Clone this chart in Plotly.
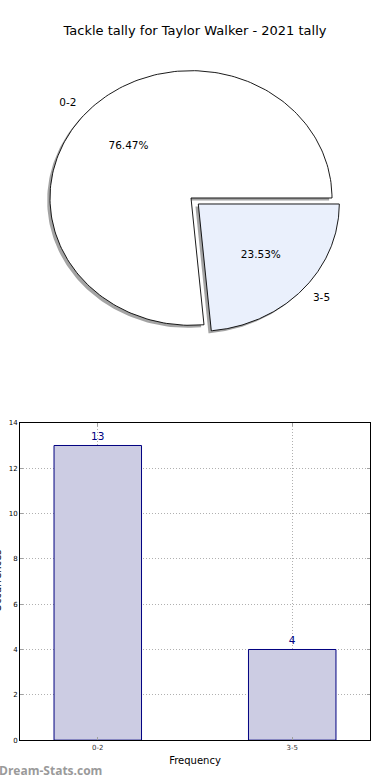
import numpy as np
import plotly.graph_objects as go

# ---------------- data ----------------
title = "Tackle tally for Taylor Walker - 2021 tally"
categories = ["0-2", "3-5"]
counts = [13, 4]
explode = [0.0, 0.07]
slice_colors = ["#ffffff", "#eaf0fc"]
y_ticks = [0, 2, 4, 6, 8, 10, 12, 14]
x_title = "Frequency"
y_title = "Occurrences"
watermark = "Dream-Stats.com"

# ---------------- geometry ----------------
W, H = 390, 780
K = 784 / 780          # page is a few px taller than the figure; compensate
FONT = "DejaVu Sans"


def py(p):
    return 1 - p * K / H


cx, cy = 191, 195       # pie centre, px
rx, ry = 141, 128       # pie radii, px
pie_top, pie_bot = 40, 370
xr = [(0 - cx) / rx, (W - cx) / rx]
yr = [(cy - pie_bot) / ry, (cy - pie_top) / ry]

fig = go.Figure()

vals = np.array(counts, dtype=float)
frac = vals / vals.sum()
theta_edges = np.concatenate([[0.0], np.cumsum(frac) * 360.0])

shadow_dx, shadow_dy = -0.02, -0.02


def wedge(i, dx=0.0, dy=0.0):
    t1, t2 = theta_edges[i], theta_edges[i + 1]
    mid = np.deg2rad((t1 + t2) / 2)
    ox = explode[i] * np.cos(mid) + dx
    oy = explode[i] * np.sin(mid) + dy
    th = np.deg2rad(np.linspace(t1, t2, 200))
    xs = np.concatenate([[ox], ox + np.cos(th), [ox]])
    ys = np.concatenate([[oy], oy + np.sin(th), [oy]])
    return xs, ys


# shadows
for i in range(len(counts)):
    xs, ys = wedge(i, shadow_dx, shadow_dy)
    fig.add_trace(go.Scatter(x=xs, y=ys, xaxis="x2", yaxis="y2", mode="lines",
                             fill="toself", fillcolor="rgba(90,90,90,0.55)",
                             line=dict(width=0), hoverinfo="skip", showlegend=False))
# slices
for i in range(len(counts)):
    xs, ys = wedge(i)
    fig.add_trace(go.Scatter(x=xs, y=ys, xaxis="x2", yaxis="y2", mode="lines",
                             fill="toself", fillcolor=slice_colors[i],
                             line=dict(width=0.9, color="#000000"),
                             hoverinfo="skip", showlegend=False))

# labels and percentages
lab_x, lab_y, lab_pos, pct_x, pct_y, pct_txt = [], [], [], [], [], []
for i in range(len(counts)):
    mid = np.deg2rad((theta_edges[i] + theta_edges[i + 1]) / 2)
    ox = explode[i] * np.cos(mid)
    oy = explode[i] * np.sin(mid)
    lx = ox + 1.1 * np.cos(mid)
    ly = oy + 1.1 * np.sin(mid)
    lab_x.append(lx)
    lab_y.append(ly)
    lab_pos.append("middle left" if lx < 0 else "middle right")
    pct_x.append(ox + 0.6 * np.cos(mid))
    pct_y.append(oy + 0.6 * np.sin(mid))
    pct_txt.append(f"{frac[i] * 100:.2f}%")

fig.add_trace(go.Scatter(x=lab_x, y=lab_y, xaxis="x2", yaxis="y2", mode="text",
                         text=categories, textposition=lab_pos,
                         textfont=dict(family=FONT, size=10.5, color="#000000"),
                         hoverinfo="skip", showlegend=False))
fig.add_trace(go.Scatter(x=pct_x, y=pct_y, xaxis="x2", yaxis="y2", mode="text",
                         text=pct_txt, textposition="middle center",
                         textfont=dict(family=FONT, size=10.5, color="#000000"),
                         hoverinfo="skip", showlegend=False))

# bars
fig.add_trace(go.Bar(x=categories, y=counts, width=0.45,
                     marker=dict(color="#cccce3", line=dict(color="#000080", width=1)),
                     text=[str(c) for c in counts], textposition="outside",
                     textfont=dict(family=FONT, size=10.5, color="#000080"),
                     cliponaxis=False, hoverinfo="skip", showlegend=False))

axis_common = dict(showline=True, linecolor="#000000", linewidth=1, mirror="ticks",
                   showgrid=True, gridcolor="#b0b0b0", griddash="1px,2px", gridwidth=1,
                   ticks="inside", ticklen=3, tickcolor="#a0a0a0", fixedrange=True)

fig.update_layout(
    width=W, height=H,
    margin=dict(l=0, r=0, t=0, b=0),
    paper_bgcolor="#ffffff", plot_bgcolor="#ffffff",
    font=dict(family=FONT, color="#000000"),
    title=dict(text=title, x=0.5, xanchor="center", y=py(30), yanchor="middle",
               font=dict(family=FONT, size=13, color="#000000")),
    xaxis2=dict(domain=[0, 1], range=xr, visible=False, fixedrange=True),
    yaxis2=dict(domain=[py(pie_bot), py(pie_top)], range=yr, visible=False, fixedrange=True),
    xaxis=dict(domain=[20 / W, 370 / W], range=[-0.4, 1.4], type="category",
               tickfont=dict(family=FONT, size=7, color="#333333"),
               title=dict(text=x_title, font=dict(family=FONT, size=10, color="#000000"), standoff=6),
               **axis_common),
    yaxis=dict(domain=[py(740), py(421)], range=[0, 14], tickvals=y_ticks, zeroline=False,
               tickfont=dict(family=FONT, size=7, color="#000000"),
               **axis_common),
    annotations=[
        dict(text=y_title, textangle=-90, xref="paper", yref="paper",
             x=-2 / W, y=py(580), xanchor="center", yanchor="middle", showarrow=False,
             font=dict(family=FONT, size=10, color="#000000")),
        dict(text="<b>" + watermark + "</b>", xref="paper", yref="paper",
             x=-3 / W, y=py(770), xanchor="left", yanchor="middle", showarrow=False,
             font=dict(family="Open Sans", size=12, color="#9a9a9a")),
    ],
)

fig.write_html("out.html", config={"displayModeBar": False},
               post_script="document.body.style.margin='0px';")
